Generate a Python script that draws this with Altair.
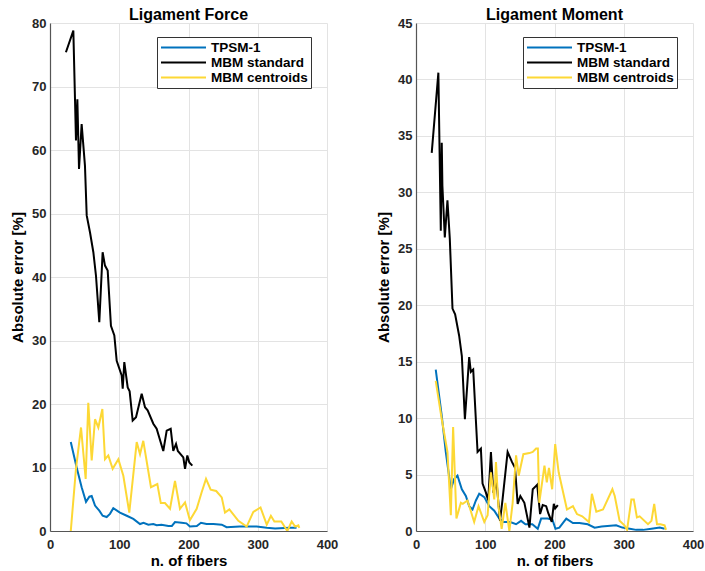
import altair as alt
import pandas as pd

SERIES = ["TPSM-1", "MBM standard", "MBM centroids"]
COLORS = ["#0072BD", "#000000", "#FDD835"]

# ---- Ligament Force ----
f_tpsm_x = [30, 38.5, 45.7, 52, 56.8, 60.2, 65, 71.2, 76, 81.8, 86.6, 91.4, 101, 110.8, 120.3, 130, 135, 142, 149.2, 154, 161, 171, 176, 180.5, 190, 197, 202, 212, 218, 226, 236, 248, 255, 274, 298.5, 313, 325, 346, 356]
f_tpsm_y = [14, 10, 6.9, 4.6, 5.4, 5.5, 4, 3.2, 2.4, 2.2, 2.7, 3.6, 2.9, 2.4, 1.9, 1.1, 1.3, 1.0, 1.1, 0.9, 1.0, 0.8, 0.8, 1.4, 1.3, 1.2, 0.7, 0.8, 1.3, 1.1, 1.1, 1.0, 0.6, 0.7, 0.7, 0.5, 0.4, 0.5, 0.5]

f_std_x = [23, 33.7, 36.1, 37.5, 39.5, 41.9, 45.7, 50.5, 53, 57.8, 62.6, 66.4, 71.2, 76, 79.4, 83.3, 88, 92.9, 96.3, 103.5, 105, 107.3, 112.2, 115, 119.4, 124.2, 132.4, 137.2, 141, 149.2, 154, 163.6, 168.5, 174.3, 178, 182, 184.6, 192.5, 195, 198.3, 201.2, 205.5]
f_std_y = [75.4, 78.8, 68, 61.5, 68, 57, 64.1, 57.5, 49.7, 47, 43.9, 40.2, 32.9, 43.9, 41.8, 41, 32.3, 30.8, 26.8, 24.5, 22.4, 26.6, 22.6, 22.0, 17.4, 17.9, 21.6, 19.5, 19, 16.9, 16.1, 12.6, 15.8, 16.1, 12.6, 13.7, 12.6, 11.6, 9.8, 11.9, 10.8, 10.3]

f_cen_x = [30, 37.5, 44.8, 51.5, 55.3, 60.2, 65, 69.8, 75.6, 79.4, 84.2, 90.5, 98.7, 105.9, 114.5, 125.2, 130, 134.7, 145.8, 155, 160, 166, 173.3, 180.5, 187.7, 195, 202, 211.8, 219, 225.3, 232, 240, 248, 252.7, 259, 272, 284, 293.6, 304, 313, 319, 324, 334, 342.7, 349, 354, 358.6, 360]
f_cen_y = [0, 9.8, 16.3, 8.2, 20.2, 11.1, 17.6, 16.3, 19.2, 11.3, 11.9, 9.8, 11.3, 8.7, 2.9, 14, 12.1, 14.2, 6.9, 7.4, 4.4, 4.4, 3.5, 7.9, 3.5, 4.5, 1.7, 3.5, 6.1, 8.2, 6.5, 6.3, 5.3, 2.9, 3.4, 1.6, 0.7, 3.0, 3.7, 1.0, 2.4, 1.5, 1.5, 0, 1.5, 0.7, 0.9, 0.5]

# ---- Ligament Moment ----
m_tpsm_x = [28.5, 37.2, 43, 50.3, 55, 59.9, 66.2, 72, 76.8, 81.6, 86.5, 91.3, 98.6, 105.8, 113, 120.3, 126, 136, 144.5, 151.7, 158, 168, 175.8, 180.7, 190, 197, 201.4, 207, 217, 226.6, 236, 248, 258, 268, 289, 298, 308.7, 318, 328, 340, 352, 359]
m_tpsm_y = [14.3, 10.2, 7.0, 3.7, 4.6, 4.9, 3.7, 3.1, 2.2, 1.9, 2.7, 3.3, 3.0, 2.2, 1.8, 1.1, 0.8, 0.8, 0.6, 0.9, 0.6, 0.6, 0.2, 1.1, 1.1, 1.0, 0.2, 0.3, 1.1, 0.7, 0.7, 0.6, 0.3, 0.4, 0.5, 0.3, 0.2, 0.1, 0.1, 0.2, 0.3, 0.2]

m_std_x = [22.7, 32.3, 35.8, 37.2, 38.1, 41.6, 45.4, 48.8, 52.7, 56.5, 62.3, 66.2, 70.6, 76.8, 79.2, 82.6, 88.9, 93.7, 96.1, 101, 104.3, 108.2, 111.6, 116.4, 121.3, 125, 132.3, 138.7, 143, 146.8, 150.7, 156.5, 163.8, 168.6, 173.4, 175, 179.2, 183, 188, 190.9, 196, 199, 201, 204.8]
m_std_y = [33.5, 40.6, 26.6, 34.4, 30.6, 26, 29.3, 25.9, 19.7, 19.2, 17.3, 15.5, 9.9, 15.4, 14.1, 14.3, 7.0, 7.3, 4.2, 3.4, 2.7, 7.0, 3.4, 4.3, 0.9, 2.8, 7.0, 6.1, 5.6, 2.4, 3.1, 2.5, 0.3, 3.7, 4.0, 4.1, 1.5, 2.3, 2.2, 1.6, 0.8, 2.4, 2.0, 2.3]

m_cen_x = [28.5, 37.2, 45.4, 50.3, 53.6, 58.4, 64.8, 67.6, 74.4, 79, 84, 90.3, 98.6, 103.4, 108.2, 113, 115.5, 119, 123.7, 129, 134.8, 139.6, 144.5, 148.3, 155, 163.8, 168.6, 173.4, 176, 178, 185.5, 188.9, 192, 196.6, 201, 206, 218, 226.6, 232.4, 240, 249.8, 254, 260.4, 270, 283.6, 287, 294, 301, 304.8, 311, 314.5, 319, 323, 335, 340, 344, 348, 353, 359, 361]
m_cen_y = [13.3, 9.9, 7.0, 1.4, 9.2, 1.1, 2.5, 2.4, 2.7, 1.8, 0.8, 2.2, 0.8, 1.4, 5.2, 2.8, 6.1, 2.2, 0.2, 2.5, 0, 2.5, 6.7, 4.9, 6.8, 6.9, 7.0, 7.3, 7.3, 2.5, 5.8, 4.3, 5.6, 3.7, 7.7, 5.2, 1.9, 2.2, 1.5, 1.3, 0.8, 3.3, 1.7, 1.9, 3.7, 3.1, 0.9, 0.5, 0.1, 2.8, 2.8, 1.2, 1.3, 0.6, 0.9, 2.4, 0.6, 0.6, 0.5, 0.1]

FONT = "Liberation Sans"


def frame(xs_list, ys_list):
    rows = []
    for k, (s, xs, ys) in enumerate(zip(SERIES, xs_list, ys_list)):
        for i, (x, y) in enumerate(zip(xs, ys)):
            rows.append({"series": s, "x": x, "y": y, "i": i, "k": k})
    return pd.DataFrame(rows)


def panel(df, title, ymax, ystep):
    xenc = alt.X(
        "x:Q",
        scale=alt.Scale(domain=[0, 400], nice=False),
        axis=alt.Axis(values=[0, 100, 200, 300, 400], title="n. of fibers"),
    )
    yenc = alt.Y(
        "y:Q",
        scale=alt.Scale(domain=[0, ymax], nice=False),
        axis=alt.Axis(values=list(range(0, ymax + 1, ystep)), title="Absolute error [%]"),
    )
    color = alt.Color(
        "series:N",
        scale=alt.Scale(domain=SERIES, range=COLORS),
        sort=SERIES,
        legend=alt.Legend(
            title=None,
            orient="none",
            legendX=107,
            legendY=14,
            direction="vertical",
            symbolType="stroke",
            symbolSize=2025,
            symbolStrokeWidth=2,
            clipHeight=15,
            labelFontSize=13.5,
            labelFontWeight="bold",
            labelFont=FONT,
            labelColor="#000000",
            labelOffset=4,
            rowPadding=0,
            padding=3,
            strokeColor="#333333",
            fillColor="#ffffff",
        ),
    )
    layers = []
    for s in SERIES:
        layers.append(
            alt.Chart(df)
            .transform_filter(alt.datum.series == s)
            .mark_line(strokeWidth=2, clip=True)
            .encode(x=xenc, y=yenc, color=color, order="i:Q")
        )
    return alt.layer(*layers).properties(width=277, height=508, title=title)


force = frame([f_tpsm_x, f_std_x, f_cen_x], [f_tpsm_y, f_std_y, f_cen_y])
moment = frame([m_tpsm_x, m_std_x, m_cen_x], [m_tpsm_y, m_std_y, m_cen_y])

left = panel(force, "Ligament Force", 80, 10)
right = panel(moment, "Ligament Moment", 45, 5)

chart = (
    alt.hconcat(left, right, spacing=38)
    .resolve_scale(color="independent", y="independent")
    .properties(padding={"left": 10, "top": 7, "right": 0, "bottom": 0})
    .configure_view(stroke=None)
    .configure_axis(
        labelFont=FONT,
        labelFontSize=13,
        labelFontWeight="bold",
        labelColor="#262626",
        titleFont=FONT,
        titleFontSize=15,
        titleFontWeight="bold",
        titleColor="#000000",
        domainColor="#555555",
        domainWidth=1.2,
        gridColor="#e3e3e3",
        gridWidth=1,
        tickSize=0,
        labelPadding=4,
        labelFlush=False,
    )
    .configure_axisX(titlePadding=2, labelPadding=7)
    .configure_axisY(titlePadding=6)
    .configure_title(
        font=FONT, fontSize=16, fontWeight="bold", color="#000000", offset=-6
    )
)

chart.save("out.html", embed_options={"renderer": "svg", "actions": False})
